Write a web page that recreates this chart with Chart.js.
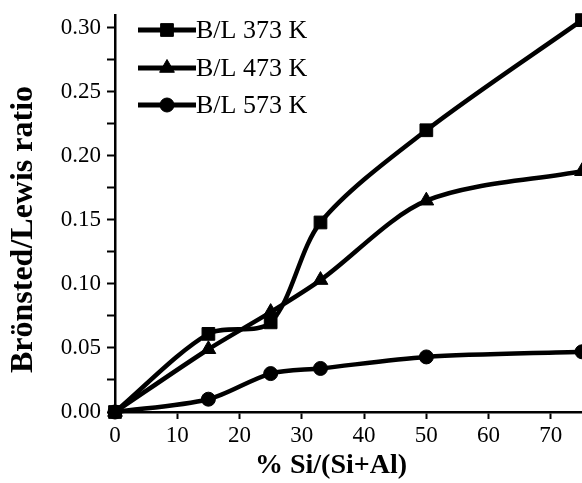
<!DOCTYPE html>
<html lang="en">
<head>
    <meta charset="UTF-8">
    <title>Brönsted/Lewis ratio</title>
    <script src="https://cdn.jsdelivr.net/npm/chart.js"></script>
    <style>
        body { margin: 0; background: #fff; }
        #chartBox { width: 582px; height: 483px; }
    </style>
</head>
<body>
    <div id="chartBox"><canvas id="blChart" width="582" height="483"></canvas></div>

    <script>
    // Werte
    const siContent = [0, 15, 25, 33, 50, 75];
    const bl373 = [0, 0.061, 0.070, 0.148, 0.220, 0.306];
    const bl473 = [0, 0.049, 0.078, 0.103, 0.165, 0.188];
    const bl573 = [0, 0.010, 0.030, 0.034, 0.043, 0.047];
    const seriesLabels = ['B/L 373 K', 'B/L 473 K', 'B/L 573 K'];
    const xTickValues = [0, 10, 20, 30, 40, 50, 60, 70];

    const serif = "'Liberation Serif', 'Times New Roman', serif";

    function toPoints(ys) {
        return siContent.map((x, i) => ({ x: x, y: ys[i] }));
    }

    function makeSet(label, ys, style, radius) {
        return {
            label: label,
            data: toPoints(ys),
            borderColor: '#000',
            backgroundColor: '#000',
            borderWidth: 4.5,
            pointStyle: style,
            pointRadius: radius,
            pointBorderWidth: 1,
            tension: 0.3,
            clip: false,
        };
    }

    function noPadding(scale) {
        scale.paddingLeft = 0;
        scale.paddingRight = 0;
        scale.paddingTop = 0;
        scale.paddingBottom = 0;
    }

    // Legende oben links im Plotbereich: Linie + Marker + Text
    const innerLegend = {
        id: 'innerLegend',
        afterDatasetsDraw(chart) {
            const ctx = chart.ctx;
            const rows = [30, 68, 105];
            ctx.save();
            chart.data.datasets.forEach((ds, i) => {
                const y = rows[i];
                ctx.strokeStyle = '#000';
                ctx.lineWidth = 5;
                ctx.beginPath();
                ctx.moveTo(138, y);
                ctx.lineTo(196, y);
                ctx.stroke();
                ctx.fillStyle = '#000';
                ctx.lineWidth = 1;
                Chart.helpers.drawPoint(ctx, {
                    pointStyle: ds.pointStyle,
                    radius: ds.pointRadius,
                    borderWidth: 1,
                    rotation: 0,
                }, 167, y);
                ctx.font = '26px ' + serif;
                ctx.textBaseline = 'middle';
                ctx.textAlign = 'left';
                ctx.fillText(ds.label, 196, y + 1);
            });
            ctx.restore();
        }
    };

    new Chart(document.getElementById('blChart'), {
        type: 'line',
        data: {
            datasets: [
                makeSet(seriesLabels[0], bl373, 'rect', 9),
                makeSet(seriesLabels[1], bl473, 'triangle', 8.5),
                makeSet(seriesLabels[2], bl573, 'circle', 7),
            ],
        },
        options: {
            responsive: false,
            animation: false,
            layout: { autoPadding: false, padding: { top: 15, right: 0, left: 0, bottom: 0 } },
            plugins: {
                legend: { display: false },
                tooltip: { enabled: false },
            },
            scales: {
                x: {
                    type: 'linear',
                    min: 0,
                    max: 75,
                    afterFit(scale) {
                        scale.height = 71;
                        noPadding(scale);
                    },
                    afterBuildTicks(scale) {
                        scale.ticks = xTickValues.map(v => ({ value: v }));
                    },
                    border: { color: '#000', width: 2.5 },
                    grid: { drawOnChartArea: false, tickLength: 7, tickColor: '#000', tickWidth: 2 },
                    ticks: { color: '#000', font: { family: serif, size: 23 }, padding: 3, maxRotation: 0 },
                    title: {
                        display: true,
                        text: '% Si/(Si+Al)\u00a0\u00a0\u00a0\u00a0\u00a0',
                        color: '#000',
                        font: { family: serif, size: 28, weight: 'bold' },
                        padding: { top: 0, bottom: 0 },
                    },
                },
                y: {
                    min: 0,
                    max: 0.31,
                    afterFit(scale) {
                        scale.width = 115;
                        noPadding(scale);
                    },
                    border: { color: '#000', width: 2.5 },
                    grid: { drawOnChartArea: false, tickLength: 8, tickColor: '#000', tickWidth: 2 },
                    ticks: {
                        stepSize: 0.025,
                        includeBounds: false,
                        color: '#000',
                        padding: 6,
                        font: { family: serif, size: 23 },
                        callback: function (v) {
                            const r = v / 0.05;
                            return Math.abs(r - Math.round(r)) < 1e-6 ? v.toFixed(2) : '';
                        },
                    },
                    title: {
                        display: true,
                        text: 'Brönsted/Lewis ratio\u00a0\u00a0\u00a0\u00a0',
                        color: '#000',
                        font: { family: serif, size: 32, weight: 'bold' },
                        padding: { top: 5, bottom: 4 },
                    },
                },
            },
        },
        plugins: [innerLegend],
    });
    </script>
</body>
</html>
